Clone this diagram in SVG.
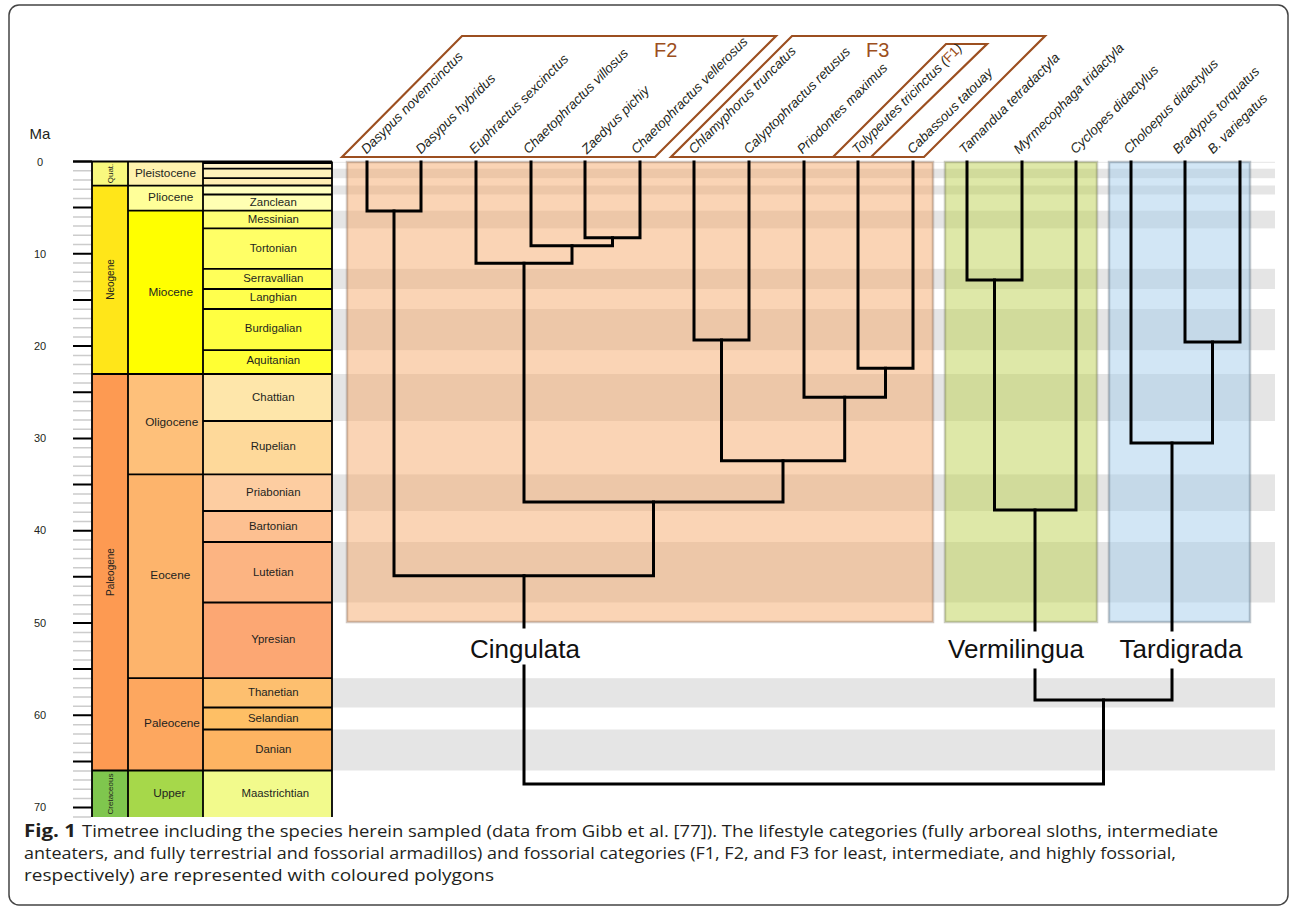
<svg xmlns="http://www.w3.org/2000/svg" width="1292" height="915" viewBox="0 0 1292 915">
<style>
.t{font-family:"Liberation Sans",Arial,sans-serif;fill:#231F20}
.ep{font-size:11.8px;text-anchor:middle}
.ag{font-size:11.4px;text-anchor:middle}
.ax{font-size:11px;text-anchor:middle}
.sp{font-family:"Liberation Sans",Arial,sans-serif;font-style:italic;font-size:13.4px;fill:#231F20}
.cl{font-family:"Liberation Sans",Arial,sans-serif;font-size:26px;fill:#111;text-anchor:middle}
.fc{fill:none;stroke:#9C4F20;stroke-width:2.2;stroke-linejoin:miter}
.fl{font-family:"Liberation Sans",Arial,sans-serif;font-size:20px;fill:#9C4F20}
.br{fill:none;stroke:#000;stroke-width:3;stroke-linecap:square;stroke-linejoin:miter}
.band{fill:#E5E5E5}
.mn{stroke:#CCCCCC;stroke-width:1.5}
.mj{stroke:#000;stroke-width:2}
.bd{fill:none;stroke:#000;stroke-width:1.8}
.cap{font-family:"Open Sans","Liberation Sans",sans-serif;font-size:17px;fill:#231F20}
</style>
<rect x="0" y="0" width="1292" height="915" fill="#fff"/>
<rect x="9" y="5" width="1279" height="900" rx="10" fill="none" stroke="#444" stroke-width="1.5"/>

<!-- gray age bands -->
<g id="bands">
<rect class="band" x="332" y="161.8" width="943" height="1"/>
<rect class="band" x="332" y="168.7" width="943" height="9.5"/>
<rect class="band" x="332" y="185.5" width="943" height="9"/>
<rect class="band" x="332" y="210.7" width="943" height="17.7"/>
<rect class="band" x="332" y="268.8" width="943" height="20.2"/>
<rect class="band" x="332" y="309" width="943" height="41.2"/>
<rect class="band" x="332" y="374" width="943" height="47"/>
<rect class="band" x="332" y="474.4" width="943" height="36.6"/>
<rect class="band" x="332" y="542" width="943" height="60.5"/>
<rect class="band" x="332" y="678.2" width="943" height="29.3"/>
<rect class="band" x="332" y="729.5" width="943" height="41"/>
</g>

<!-- timescale -->
<g id="timescale">
<text class="t" x="40" y="139" font-size="15" text-anchor="middle">Ma</text>
<g class="t ax">
<text x="40" y="165.5">0</text>
<text x="40" y="258">10</text>
<text x="40" y="350">20</text>
<text x="40" y="442">30</text>
<text x="40" y="534">40</text>
<text x="40" y="626.5">50</text>
<text x="40" y="719">60</text>
<text x="40" y="811">70</text>
</g>
<g id="ticks">
<path class="mn" d="M73,170.7H91M73,179.9H91M73,189.2H91M73,198.4H91M73,216.9H91M73,226.1H91M73,235.3H91M73,244.6H91M73,263H91M73,272.3H91M73,281.5H91M73,290.7H91M73,309.2H91M73,318.4H91M73,327.7H91M73,336.9H91M73,355.4H91M73,364.6H91M73,373.8H91M73,383.1H91M73,401.5H91M73,410.8H91M73,420H91M73,429.2H91M73,447.7H91M73,456.9H91M73,466.2H91M73,475.4H91M73,493.9H91M73,503.1H91M73,512.3H91M73,521.6H91M73,540H91M73,549.3H91M73,558.5H91M73,567.7H91M73,586.2H91M73,595.4H91M73,604.7H91M73,613.9H91M73,632.4H91M73,641.6H91M73,650.8H91M73,660.1H91M73,678.5H91M73,687.8H91M73,697H91M73,706.2H91M73,724.7H91M73,733.9H91M73,743.2H91M73,752.4H91M73,770.9H91M73,780.1H91M73,789.3H91M73,798.6H91M73,817H91"/>
<path class="mj" d="M73,161.5H92M73,207.6H92M73,253.8H92M73,299.9H92M73,346.1H92M73,392.2H92M73,438.4H92M73,484.5H92M73,530.7H92M73,576.8H92M73,623H92M73,669.1H92M73,715.3H92M73,761.4H92M73,807.6H92"/>
</g>
<!-- periods -->
<rect x="92" y="161.5" width="36" height="24.2" fill="#F9F97F"/>
<rect x="92" y="185.7" width="36" height="188.3" fill="#FFE619"/>
<rect x="92" y="374" width="36" height="396.5" fill="#FD9A52"/>
<rect x="92" y="770.5" width="36" height="46.5" fill="#7FC64E"/>
<!-- epochs -->
<rect x="128" y="161.5" width="75" height="24.2" fill="#FFF2AE"/>
<rect x="128" y="185.7" width="75" height="25" fill="#FFFF99"/>
<rect x="128" y="210.7" width="75" height="163.3" fill="#FFFF00"/>
<rect x="128" y="374" width="75" height="100.4" fill="#FEC07A"/>
<rect x="128" y="474.4" width="75" height="203.8" fill="#FDB46C"/>
<rect x="128" y="678.2" width="75" height="92.3" fill="#FDA75F"/>
<rect x="128" y="770.5" width="75" height="46.5" fill="#A6D84A"/>
<!-- ages -->
<rect x="203" y="161.5" width="129" height="7.2" fill="#FFF2C7"/>
<rect x="203" y="168.7" width="129" height="9.5" fill="#FFF2BA"/>
<rect x="203" y="178.2" width="129" height="7.3" fill="#FFEDB3"/>
<rect x="203" y="185.5" width="129" height="9" fill="#FFFFBF"/>
<rect x="203" y="194.5" width="129" height="16.2" fill="#FFFFB3"/>
<rect x="203" y="210.7" width="129" height="17.7" fill="#FFFF73"/>
<rect x="203" y="228.4" width="129" height="40.4" fill="#FFFF66"/>
<rect x="203" y="268.8" width="129" height="20.2" fill="#FFFF59"/>
<rect x="203" y="289" width="129" height="20" fill="#FFFF4D"/>
<rect x="203" y="309" width="129" height="41.2" fill="#FFFF41"/>
<rect x="203" y="350.2" width="129" height="23.8" fill="#FFFF33"/>
<rect x="203" y="374" width="129" height="47" fill="#FEE6AA"/>
<rect x="203" y="421" width="129" height="53.4" fill="#FED99A"/>
<rect x="203" y="474.4" width="129" height="36.6" fill="#FDCDA1"/>
<rect x="203" y="511" width="129" height="31" fill="#FDC091"/>
<rect x="203" y="542" width="129" height="60.5" fill="#FCB482"/>
<rect x="203" y="602.5" width="129" height="75.7" fill="#FCA773"/>
<rect x="203" y="678.2" width="129" height="29.3" fill="#FDBF6F"/>
<rect x="203" y="707.5" width="129" height="22" fill="#FEBF65"/>
<rect x="203" y="729.5" width="129" height="41" fill="#FDB462"/>
<rect x="203" y="770.5" width="129" height="46.5" fill="#F2FA8C"/>
<path class="bd" d="M92,161.5V817M128,161.5V817M203,161.5V817M332,161.5V817M73,161.5H332M92,185.7H203M92,374H332M92,770.5H332M128,210.7H332M128,474.4H332M128,678.2H332M203,163H332M203,168.7H332M203,178.2H332M203,185.5H332M203,194.5H332M203,228.4H332M203,268.8H332M203,289H332M203,309H332M203,350.2H332M203,421H332M203,511H332M203,542H332M203,602.5H332M203,707.5H332M203,729.5H332"/>
<g class="t">
<text font-size="8" text-anchor="middle" transform="translate(113,173.5) rotate(-90)">Quat.</text>
<text font-size="10" text-anchor="middle" transform="translate(113.5,279.5) rotate(-90)">Neogene</text>
<text font-size="10" text-anchor="middle" transform="translate(113.5,572) rotate(-90)">Paleogene</text>
<text font-size="8" text-anchor="middle" transform="translate(113,794) rotate(-90)">Cretaceous</text>
</g>
<g class="t ep">
<text x="165.5" y="176.8">Pleistocene</text>
<text x="170.7" y="201.4">Pliocene</text>
<text x="170.7" y="296.2">Miocene</text>
<text x="171.7" y="426.2">Oligocene</text>
<text x="170.3" y="579.2">Eocene</text>
<text x="172" y="727.2">Paleocene</text>
<text x="169.3" y="796.5">Upper</text>
</g>
<g class="t ag">
<text x="273.3" y="205.8">Zanclean</text>
<text x="273.3" y="223.1">Messinian</text>
<text x="273.3" y="251.8">Tortonian</text>
<text x="273.3" y="281.8">Serravallian</text>
<text x="273.3" y="301.4">Langhian</text>
<text x="273.3" y="332.4">Burdigalian</text>
<text x="273.3" y="364.1">Aquitanian</text>
<text x="273.3" y="400.8">Chattian</text>
<text x="273.3" y="450.1">Rupelian</text>
<text x="273.3" y="496.4">Priabonian</text>
<text x="273.3" y="529.8">Bartonian</text>
<text x="273.3" y="576.1">Lutetian</text>
<text x="273.3" y="643.4">Ypresian</text>
<text x="273.3" y="696.1">Thanetian</text>
<text x="273.3" y="722.1">Selandian</text>
<text x="273.3" y="752.8">Danian</text>
<text x="275.3" y="797.1">Maastrichtian</text>
</g>
</g>

<!-- lifestyle boxes -->
<g id="lifestyle">
<rect id="box-cingulata" x="347" y="162" width="586" height="460" fill="#F5A96B" fill-opacity="0.5" stroke="#8C7060" stroke-opacity="0.4" stroke-width="2.5"/>
<rect id="box-vermilingua" x="945" y="162" width="152" height="460" fill="#BDD151" fill-opacity="0.5" stroke="#7A8060" stroke-opacity="0.4" stroke-width="2.5"/>
<rect id="box-tardigrada" x="1109" y="162" width="141" height="460" fill="#A5CDEB" fill-opacity="0.5" stroke="#607080" stroke-opacity="0.4" stroke-width="2.5"/>
</g>

<!-- fossorial category polygons -->
<g id="fossorial">
<g id="F2"><polygon class="fc" points="342,157 462,36 776,36 655,157"/><text class="fl" x="654" y="57">F2</text></g>
<g id="F3"><polyline class="fc" points="833,157 671,157 792,36 1045,36 924,157 871,157"/><text class="fl" x="866" y="57">F3</text></g>
<g id="F1"><polygon class="fc" points="833,157 946,44 987,44 871,157"/></g>
</g>

<!-- connectors: tree branches -->
<g id="tree" class="br">
<path d="M367,162V211H421V162"/>
<path d="M585,162V237.7H640V162"/>
<path d="M531,162V245.7H612.5V237.7"/>
<path d="M476,162V263.3H572V245.7"/>
<path d="M694,162V340H749V162"/>
<path d="M858,162V368.3H913V162"/>
<path d="M804,162V397.3H885.5V368.3"/>
<path d="M721.5,340V460.7H844.7V397.3"/>
<path d="M524,263.3V502H783V460.7"/>
<path d="M394,211V575.7H653.5V502"/>
<path d="M524,575.7V627"/>
<path d="M967,162V280H1022V162"/>
<path d="M994.5,280V510H1076V162"/>
<path d="M1035,510V630"/>
<path d="M1185,162V342H1240V162"/>
<path d="M1131,162V443H1212.5V342"/>
<path d="M1172,443V630"/>
<path d="M1035,670V700H1172V670"/>
<path d="M524,666V784H1103.5V700"/>
</g>

<!-- species tips -->
<g id="sp1"><text class="sp" transform="translate(366.5,154.5) rotate(-45)">Dasypus novemcinctus</text></g>
<g id="sp2"><text class="sp" transform="translate(421,154.5) rotate(-45)">Dasypus hybridus</text></g>
<g id="sp3"><text class="sp" transform="translate(474.5,154.5) rotate(-45)">Euphractus sexcinctus</text></g>
<g id="sp4"><text class="sp" transform="translate(528.5,154.5) rotate(-45)">Chaetophractus villosus</text></g>
<g id="sp5"><text class="sp" transform="translate(587,154.5) rotate(-45)">Zaedyus pichiy</text></g>
<g id="sp6"><text class="sp" transform="translate(636.5,154.5) rotate(-45)">Chaetophractus vellerosus</text></g>
<g id="sp7"><text class="sp" transform="translate(694,154.5) rotate(-45)">Chlamyphorus truncatus</text></g>
<g id="sp8"><text class="sp" transform="translate(749,154.5) rotate(-45)">Calyptophractus retusus</text></g>
<g id="sp9"><text class="sp" transform="translate(802.5,154.5) rotate(-45)">Priodontes maximus</text></g>
<g id="sp10"><text class="sp" transform="translate(857.5,154.5) rotate(-45)">Tolypeutes tricinctus (<tspan fill="#9C4F20" font-style="normal">F1</tspan>)</text></g>
<g id="sp11"><text class="sp" transform="translate(912.5,154.5) rotate(-45)">Cabassous tatouay</text></g>
<g id="sp12"><text class="sp" transform="translate(964.5,154.5) rotate(-45)">Tamandua tetradactyla</text></g>
<g id="sp13"><text class="sp" transform="translate(1019,154.5) rotate(-45)">Myrmecophaga tridactyla</text></g>
<g id="sp14"><text class="sp" transform="translate(1075.5,154.5) rotate(-45)">Cyclopes didactylus</text></g>
<g id="sp15"><text class="sp" transform="translate(1129,154.5) rotate(-45)">Choloepus didactylus</text></g>
<g id="sp16"><text class="sp" transform="translate(1178,154.5) rotate(-45)">Bradypus torquatus</text></g>
<g id="sp17"><text class="sp" transform="translate(1213,154.5) rotate(-45)">B. variegatus</text></g>

<!-- clade labels -->
<g id="cingulata"><text class="cl" x="525" y="658">Cingulata</text></g>
<g id="vermilingua"><text class="cl" x="1016" y="658">Vermilingua</text></g>
<g id="tardigrada"><text class="cl" x="1181" y="658">Tardigrada</text></g>

<!-- caption -->
<g id="caption">
<text class="cap" x="24" y="837" font-weight="bold" textLength="52" lengthAdjust="spacingAndGlyphs">Fig. 1</text>
<text class="cap" x="82" y="837" textLength="1136" lengthAdjust="spacingAndGlyphs">Timetree including the species herein sampled (data from Gibb et al. [77]). The lifestyle categories (fully arboreal sloths, intermediate</text>
<text class="cap" x="24" y="859" textLength="1152" lengthAdjust="spacingAndGlyphs">anteaters, and fully terrestrial and fossorial armadillos) and fossorial categories (F1, F2, and F3 for least, intermediate, and highly fossorial,</text>
<text class="cap" x="24" y="881" textLength="470" lengthAdjust="spacingAndGlyphs">respectively) are represented with coloured polygons</text>
</g>
</svg>
